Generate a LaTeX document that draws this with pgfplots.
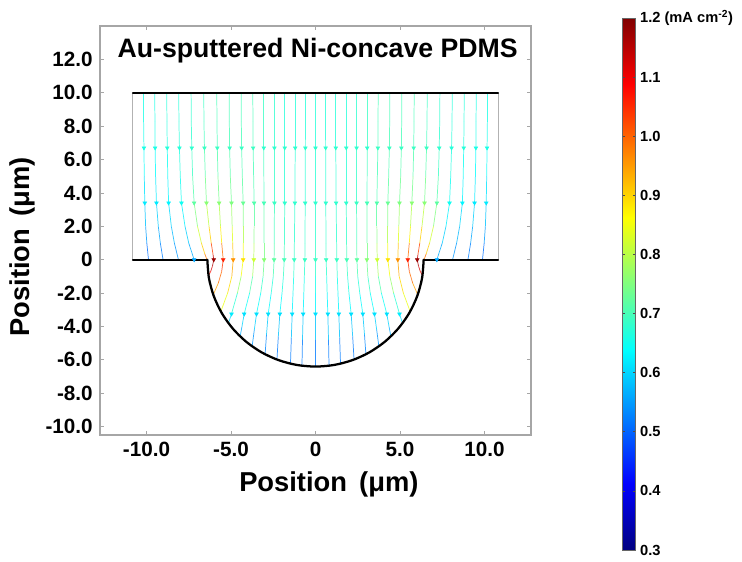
\documentclass[border=0pt]{standalone}
\usepackage{pgfplots}
\usepackage{pgfplotstable}
\pgfplotsset{compat=1.18}
\usepackage{fontspec}
\setmainfont{Liberation Sans}

\pgfplotstableread{
x y c
-10.18 10 0.66
-10.17 8.3 0.66
-10.15 6.7 0.65
-10.13 5.0 0.63
-10.10 3.4 0.60
-10.05 2.0 0.57
-9.98 1.0 0.53
-9.88 0 0.49
}\La
\pgfplotstableread{
x y c
-9.51 10 0.66
-9.50 8.3 0.66
-9.49 6.7 0.65
-9.46 5 0.63
-9.41 3.4 0.61
-9.30 2 0.58
-9.18 1 0.54
-9.02 0 0.51
}\Lb
\pgfplotstableread{
x y c
-8.80 10 0.67
-8.79 8.3 0.67
-8.77 6.7 0.66
-8.74 5 0.64
-8.69 3.4 0.62
-8.53 2 0.59
-8.35 1 0.56
-8.11 0 0.53
}\Lc
\pgfplotstableread{
x y c
-8.09 10 0.67
-8.08 8.3 0.67
-8.05 6.7 0.67
-8.00 5 0.66
-7.93 3.4 0.64
-7.72 2 0.61
-7.50 1 0.58
-7.18 0 0.55
}\Ld
\pgfplotstableread{
x y c
-7.36 10 0.68
-7.35 8.3 0.68
-7.32 6.7 0.68
-7.27 5 0.70
-7.18 3.4 0.72
-6.98 2 0.78
-6.75 1 0.86
-6.55 0.35 0.95
-6.42 0 1.02
}\Le
\pgfplotstableread{
x y c
-6.61 10 0.69
-6.60 8.3 0.69
-6.57 6.7 0.70
-6.52 5 0.72
-6.45 3.4 0.76
-6.30 2 0.85
-6.17 1 0.96
-6.06 0.3 1.10
-6.02 0 1.18
-6.10 -0.4 1.15
-6.20 -0.7 1.10
-6.33 -0.95 1.05
}\Lf
\pgfplotstableread{
x y c
-5.84 10 0.70
-5.83 8.3 0.70
-5.81 6.7 0.70
-5.77 5 0.72
-5.70 3.4 0.76
-5.62 2 0.83
-5.55 1 0.92
-5.46 0 1.06
-5.55 -0.7 1.02
-5.75 -1.4 0.97
-6.05 -2.1 0.92
}\Lg
\pgfplotstableread{
x y c
-5.11 10 0.70
-5.10 8.3 0.70
-5.08 6.7 0.70
-5.04 5 0.72
-4.97 3.4 0.75
-4.93 2 0.80
-4.90 1 0.87
-4.87 0 0.96
-4.95 -1 0.92
-5.20 -2 0.87
-5.60 -3.1 0.82
}\Lh
\pgfplotstableread{
x y c
-4.40 10 0.70
-4.39 8.3 0.70
-4.37 6.7 0.70
-4.33 5 0.71
-4.28 3.4 0.73
-4.27 2 0.77
-4.27 1 0.82
-4.28 0 0.89
-4.40 -1 0.82
-4.62 -2 0.72
-4.97 -3.25 0.63
-5.15 -3.8 0.58
}\Li
\pgfplotstableread{
x y c
-3.71 10 0.70
-3.70 8.3 0.70
-3.69 6.7 0.70
-3.66 5 0.70
-3.63 3.4 0.71
-3.63 2 0.73
-3.64 1 0.77
-3.65 0 0.82
-3.72 -1 0.75
-3.90 -2 0.67
-4.22 -3.25 0.62
-4.35 -4.0 0.58
-4.46 -4.6 0.55
}\Lj
\pgfplotstableread{
x y c
-3.06 10 0.69
-3.06 6.7 0.69
-3.05 3.4 0.70
-3.04 1 0.73
-3.04 0 0.76
-3.10 -1 0.71
-3.24 -2 0.66
-3.49 -3.25 0.62
-3.62 -4.2 0.57
-3.75 -5.2 0.52
}\Lk
\pgfplotstableread{
x y c
-2.43 10 0.68
-2.43 6.7 0.68
-2.43 3.4 0.69
-2.44 1 0.70
-2.45 0 0.72
-2.50 -1 0.69
-2.62 -2 0.65
-2.80 -3.25 0.62
-2.90 -4.5 0.56
-2.98 -5.65 0.50
}\Ll
\pgfplotstableread{
x y c
-1.82 10 0.67
-1.82 6.7 0.67
-1.82 3.4 0.68
-1.84 1 0.69
-1.85 0 0.70
-1.90 -1 0.68
-1.98 -2 0.65
-2.11 -3.25 0.62
-2.20 -4.6 0.55
-2.28 -5.98 0.49
}\Lm
\pgfplotstableread{
x y c
-1.20 10 0.67
-1.20 6.7 0.67
-1.22 3.4 0.68
-1.25 1 0.68
-1.26 0 0.69
-1.29 -1 0.67
-1.33 -2 0.64
-1.38 -3.25 0.62
-1.43 -4.7 0.55
-1.48 -6.22 0.49
}\Ln
\pgfplotstableread{
x y c
-0.59 10 0.67
-0.60 6.7 0.67
-0.61 3.4 0.68
-0.62 1 0.68
-0.63 0 0.69
-0.66 -1 0.67
-0.69 -2 0.64
-0.73 -3.25 0.62
-0.77 -4.8 0.55
-0.80 -6.35 0.49
}\Lo
\pgfplotstableread{
x y c
0 10 0.67
0 6.7 0.67
0 3.4 0.68
0 1 0.68
0 0 0.69
0 -1 0.67
0 -2 0.64
0 -3.25 0.62
0 -4.8 0.55
0 -6.4 0.49
}\Lz
% arrow markers, left half
\pgfplotstableread{
x y c
-10.15 6.7 0.66
-9.49 6.7 0.66
-8.77 6.7 0.67
-8.05 6.7 0.67
-7.32 6.7 0.68
-6.57 6.7 0.69
-5.81 6.7 0.69
-5.08 6.7 0.69
-4.37 6.7 0.69
-3.69 6.7 0.69
-3.06 6.7 0.68
-2.43 6.7 0.68
-1.82 6.7 0.68
-1.20 6.7 0.68
-0.60 6.7 0.68
-10.10 3.4 0.62
-9.41 3.4 0.62
-8.69 3.4 0.63
-7.93 3.4 0.65
-7.18 3.4 0.72
-6.45 3.4 0.76
-5.70 3.4 0.76
-4.97 3.4 0.75
-4.28 3.4 0.73
-3.63 3.4 0.71
-3.05 3.4 0.70
-2.43 3.4 0.69
-1.82 3.4 0.68
-1.22 3.4 0.68
-0.61 3.4 0.68
-7.18 0 0.56
-6.02 0 1.18
-5.46 0 1.06
-4.87 0 0.96
-4.28 0 0.89
-3.65 0 0.82
-3.04 0 0.76
-2.45 0 0.72
-1.85 0 0.70
-1.26 0 0.69
-0.63 0 0.69
-4.97 -3.25 0.62
-4.22 -3.25 0.61
-3.49 -3.25 0.61
-2.80 -3.25 0.61
-2.11 -3.25 0.61
-1.38 -3.25 0.61
-0.73 -3.25 0.61
}\Arr
\pgfplotstableread{
x y c
0 6.7 0.68
0 3.4 0.68
0 0 0.69
0 -3.25 0.61
}\ArrC

\newcommand{\sline}[1]{%
\addplot[mesh, line width=0.55pt, opacity=0.8, point meta=explicit] table[x=x,y=y,meta=c]{#1};
\addplot[mesh, line width=0.55pt, opacity=0.8, point meta=explicit] table[x expr=-\thisrow{x},y=y,meta=c]{#1};
}

\begin{document}
\begin{tikzpicture}
\useasboundingbox (-75pt,-94.5pt) rectangle (481.5pt,326.25pt);
\begin{axis}[
  scale only axis,
  width=323.25pt, height=306.75pt,
  xmin=-12.75, xmax=12.75, ymin=-10.5, ymax=14,
  axis line style={draw=gray!70, line width=0.8pt},
  tick style={draw=gray!70, line width=0.6pt},
  tick align=inside, major tick length=3pt,
  xtick={-10,-5,0,5,10},
  xticklabels={-10.0,-5.0,0,5.0,10.0},
  ytick={-10,-8,-6,-4,-2,0,2,4,6,8,10,12},
  yticklabels={-10.0,-8.0,-6.0,-4.0,-2.0,0,2.0,4.0,6.0,8.0,10.0,12.0},
  tick label style={font=\bfseries\fontsize{15.5}{17}\selectfont},
  xticklabel style={yshift=-1.5pt},
  yticklabel style={xshift=-2pt},
  xlabel={Position\, (μm)},
  ylabel={Position\, (μm)},
  label style={font=\bfseries\fontsize{20.5}{23}\selectfont},
  xlabel style={at={(axis description cs:0.531,-0.122)}, anchor=center},
  ylabel style={at={(axis description cs:-0.179,0.46)}, anchor=center},
  title={Au-sputtered Ni-concave PDMS},
  title style={at={(axis description cs:0.505,0.921)}, anchor=center,
    font=\bfseries\fontsize{20}{23}\selectfont},
  colormap/jet,
  point meta min=0.3, point meta max=1.2,
  colorbar,
  colorbar style={
    at={(383.25pt,312.75pt)}, anchor=north west,
    scale only axis, width=9.75pt, height=399pt,
    ytick={0.3,0.4,0.5,0.6,0.7,0.8,0.9,1.0,1.1,1.2},
    yticklabels={0.3,0.4,0.5,0.6,0.7,0.8,0.9,1.0,1.1,{1.2 (mA cm\textsuperscript{-2})}},
    yticklabel style={font=\bfseries\fontsize{11}{13}\selectfont, anchor=west},
    axis line style={draw=black!60, line width=0.5pt},
    tick style={draw=black!70, line width=0.5pt},
    major tick length=2pt,
  },
]
\sline{\La}
\sline{\Lb}
\sline{\Lc}
\sline{\Ld}
\sline{\Le}
\sline{\Lf}
\sline{\Lg}
\sline{\Lh}
\sline{\Li}
\sline{\Lj}
\sline{\Lk}
\sline{\Ll}
\sline{\Lm}
\sline{\Ln}
\sline{\Lo}
\addplot[mesh, line width=0.55pt, opacity=0.8, point meta=explicit] table[x=x,y=y,meta=c]{\Lz};

% boundaries
\addplot[gray!60, line width=0.7pt] coordinates {(-10.8,0) (-10.8,10)};
\addplot[gray!60, line width=0.7pt] coordinates {(10.8,0) (10.8,10)};
\addplot[black, line width=1.7pt, line cap=round] coordinates {(-10.8,10) (10.8,10)};
\addplot[black, line width=1.7pt, line cap=round] coordinates {(-10.8,0) (-6.4,0)};
\addplot[black, line width=1.7pt, line cap=round] coordinates {(6.4,0) (10.8,0)};
\addplot[black, line width=1.7pt, smooth, line cap=round] coordinates {
(-6.4,0) (-6.303,-1.111) (-6.014,-2.189) (-5.543,-3.2) (-4.903,-4.114)
(-4.114,-4.903) (-3.2,-5.543) (-2.189,-6.014) (-1.111,-6.303) (0,-6.4)
(1.111,-6.303) (2.189,-6.014) (3.2,-5.543) (4.114,-4.903) (4.903,-4.114)
(5.543,-3.2) (6.014,-2.189) (6.303,-1.111) (6.4,0)};

% arrow markers
\addplot[scatter, only marks, mark=triangle*, mark size=1.6pt, mark options={rotate=180},
  point meta=explicit, scatter/use mapped color={draw=mapped color, fill=mapped color}]
  table[x=x,y=y,meta=c]{\Arr};
\addplot[scatter, only marks, mark=triangle*, mark size=1.6pt, mark options={rotate=180},
  point meta=explicit, scatter/use mapped color={draw=mapped color, fill=mapped color}]
  table[x expr=-\thisrow{x},y=y,meta=c]{\Arr};
\addplot[scatter, only marks, mark=triangle*, mark size=1.6pt, mark options={rotate=180},
  point meta=explicit, scatter/use mapped color={draw=mapped color, fill=mapped color}]
  table[x=x,y=y,meta=c]{\ArrC};
\end{axis}
\end{tikzpicture}
\end{document}
